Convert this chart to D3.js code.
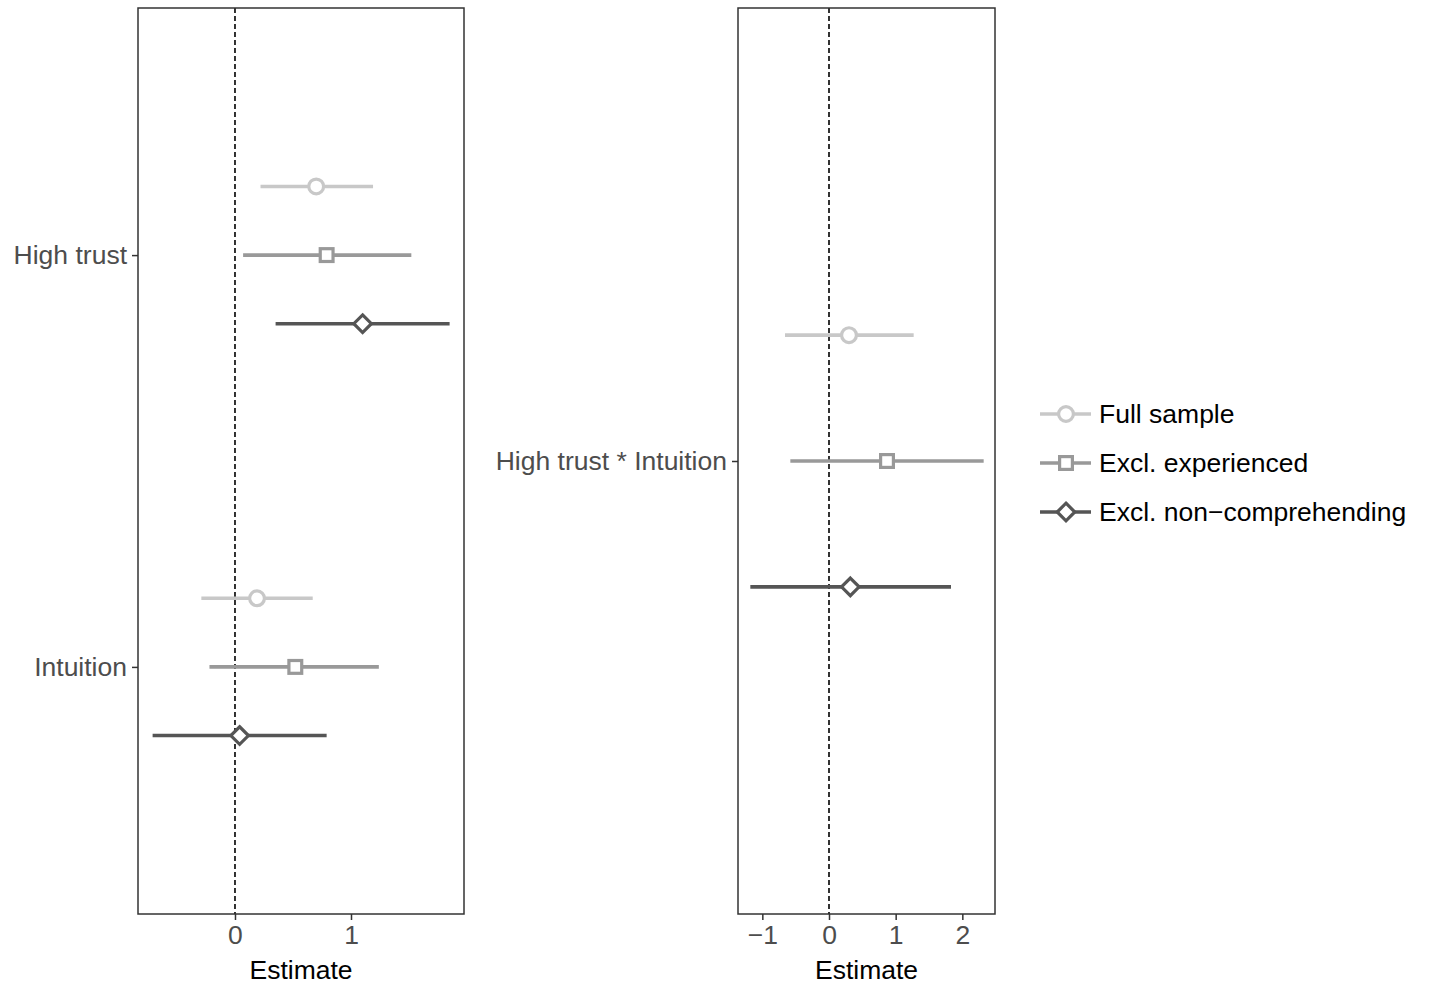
<!DOCTYPE html>
<html>
<head>
<meta charset="utf-8">
<script src="https://cdn.jsdelivr.net/npm/d3@7"></script>
<style>
body { margin: 0; background: #fff; }
svg { font-family: "Liberation Sans", Arial, sans-serif; }
</style>
</head>
<body>
<div id="vis_container"></div>
<script>
// Models in dodge order, top to bottom within each term.
var models = ["Full sample", "Excl. experienced", "Excl. non\u2212comprehending"];
var model_color = ["#c8c8c8", "#999999", "#555555"];
var model_shape = ["circle", "square", "diamond"];

// Left panel: main effects.
var left_terms = ["High trust", "Intuition"];
var left_est = [[0.70, 0.79, 1.10], [0.19, 0.52, 0.04]];
var left_lo = [[0.22, 0.07, 0.35], [-0.29, -0.22, -0.71]];
var left_hi = [[1.19, 1.52, 1.85], [0.67, 1.24, 0.79]];
var left_ticks = [0, 1];

// Right panel: interaction.
var right_terms = ["High trust * Intuition"];
var right_est = [[0.30, 0.87, 0.32]];
var right_lo = [[-0.66, -0.58, -1.18]];
var right_hi = [[1.27, 2.32, 1.83]];
var right_ticks = [-1, 0, 1, 2];

var width = 1429, height = 984;
var panel_top = 8, panel_bottom = 914;
var font_size = "26.5px";

var svg = d3.select("#vis_container").append("svg")
	.attr("width", width)
	.attr("height", height);

function rows(terms, est, lo, hi) {
	var out = [];
	terms.forEach(function(t, i) {
		models.forEach(function(m, j) {
			out.push({term: t, model: j, est: est[i][j], lo: lo[i][j], hi: hi[i][j]});
		});
	});
	return out;
}

function marker(g, shape, color) {
	if (shape == "circle") {
		g.append("circle").attr("r", 7.4);
	} else if (shape == "square") {
		g.append("rect").attr("x", -6.4).attr("y", -6.4).attr("width", 12.8).attr("height", 12.8);
	} else {
		g.append("path").attr("d", "M0,-8.8L8.8,0L0,8.8L-8.8,0Z");
	}
	g.selectAll("*").style("fill", "#fff").style("stroke", color).style("stroke-width", 3.2);
}

function panel(left, right, domain, ticks, terms, data) {
	var x = d3.scaleLinear().domain(domain).range([left, right]);
	// discrete axis with ggplot-style 0.6 expansion
	var n = terms.length;
	var y = d3.scaleLinear().domain([1 - 0.6, n + 0.6]).range([panel_top, panel_bottom]);

	var g = svg.append("g");

	g.append("line")
		.attr("x1", x(0)).attr("x2", x(0))
		.attr("y1", panel_top).attr("y2", panel_bottom)
		.style("stroke", "#000").style("stroke-width", 1.6)
		.style("stroke-dasharray", "5,3");

	var dodge = [-1 / 6, 0, 1 / 6];
	var pts = g.selectAll(".pt").data(data).enter().append("g").attr("class", "pt");
	pts.append("line")
		.attr("x1", function(d) { return x(d.lo); })
		.attr("x2", function(d) { return x(d.hi); })
		.attr("y1", function(d) { return y(terms.indexOf(d.term) + 1 + dodge[d.model]); })
		.attr("y2", function(d) { return y(terms.indexOf(d.term) + 1 + dodge[d.model]); })
		.style("stroke", function(d) { return model_color[d.model]; })
		.style("stroke-width", 3.6);
	pts.each(function(d) {
		var m = d3.select(this).append("g")
			.attr("transform", "translate(" + x(d.est) + "," + y(terms.indexOf(d.term) + 1 + dodge[d.model]) + ")");
		marker(m, model_shape[d.model], model_color[d.model]);
	});

	g.append("rect")
		.attr("x", left).attr("y", panel_top)
		.attr("width", right - left).attr("height", panel_bottom - panel_top)
		.style("fill", "none").style("stroke", "#333").style("stroke-width", 1.5);

	// x axis
	var xa = g.append("g").attr("transform", "translate(0," + panel_bottom + ")")
		.call(d3.axisBottom(x).tickValues(ticks).tickSize(6).tickPadding(5)
			.tickFormat(function(v) { return v < 0 ? "\u2212" + Math.abs(v) : v; }));
	xa.select(".domain").remove();
	xa.selectAll("line").style("stroke", "#333").style("stroke-width", 1.5);
	xa.selectAll("text").style("font-size", font_size).style("fill", "#4d4d4d")
		.style("font-family", "Liberation Sans, Arial, sans-serif");

	g.append("text")
		.attr("x", (left + right) / 2).attr("y", 979)
		.attr("text-anchor", "middle")
		.style("font-size", font_size).style("fill", "#000")
		.text("Estimate");

	// y axis
	var ya = g.append("g").attr("transform", "translate(" + left + ",0)")
		.call(d3.axisLeft(y).tickValues(d3.range(1, n + 1)).tickSize(6).tickPadding(5)
			.tickFormat(function(v) { return terms[v - 1]; }));
	ya.select(".domain").remove();
	ya.selectAll("line").style("stroke", "#333").style("stroke-width", 1.5);
	ya.selectAll("text").style("font-size", font_size).style("fill", "#4d4d4d")
		.style("font-family", "Liberation Sans, Arial, sans-serif");
}

panel(138, 464, [-0.836, 1.974], left_ticks, left_terms, rows(left_terms, left_est, left_lo, left_hi));
panel(738, 995, [-1.365, 2.49], right_ticks, right_terms, rows(right_terms, right_est, right_lo, right_hi));

// Legend
var legend = svg.append("g");
models.forEach(function(m, i) {
	var yy = 414 + i * 49;
	legend.append("line")
		.attr("x1", 1040).attr("x2", 1091).attr("y1", yy).attr("y2", yy)
		.style("stroke", model_color[i]).style("stroke-width", 3.6);
	var k = legend.append("g").attr("transform", "translate(1066," + yy + ")");
	marker(k, model_shape[i], model_color[i]);
	legend.append("text")
		.attr("x", 1099).attr("y", yy).attr("dy", "0.35em")
		.style("font-size", font_size).style("fill", "#000")
		.text(m);
});
</script>
</body>
</html>
